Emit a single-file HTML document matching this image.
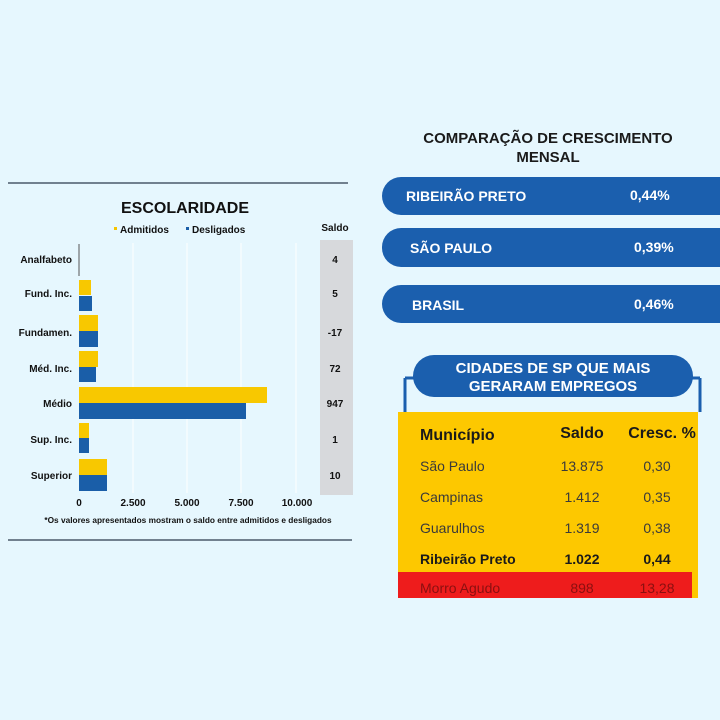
<!DOCTYPE html>
<html><head><meta charset="utf-8"><style>
html,body{margin:0;padding:0;background:#e6f7fe;}
svg{display:block;font-family:"Liberation Sans","DejaVu Sans",sans-serif;}
</style></head><body>
<svg width="720" height="720" viewBox="0 0 720 720" xmlns="http://www.w3.org/2000/svg">
<rect width="720" height="720" fill="#e6f7fe"/>
<!-- Left chart -->
<line x1="8" y1="183" x2="348" y2="183" stroke="#4a5a6a" stroke-width="1.5"/>
<line x1="8" y1="540" x2="352" y2="540" stroke="#4a5a6a" stroke-width="1.5"/>
<text x="185" y="213" text-anchor="middle" font-size="16" font-weight="bold" fill="#111">ESCOLARIDADE</text>
<rect x="114" y="227" width="3" height="3" fill="#f5c400"/>
<text x="120" y="233" font-size="10" font-weight="bold" fill="#111">Admitidos</text>
<rect x="186" y="227" width="3" height="3" fill="#1a5ea8"/>
<text x="192" y="233" font-size="10" font-weight="bold" fill="#111">Desligados</text>
<text x="335" y="231" text-anchor="middle" font-size="10" font-weight="bold" fill="#111">Saldo</text>
<rect x="320" y="240" width="33" height="255" fill="#d7d9dc"/>
<g stroke="#ffffff" stroke-width="1">
<line x1="133" y1="243" x2="133" y2="493"/><line x1="187" y1="243" x2="187" y2="493"/>
<line x1="241" y1="243" x2="241" y2="493"/><line x1="296" y1="243" x2="296" y2="493"/>
</g>
<g font-size="10" font-weight="bold" fill="#111" text-anchor="end">
<text x="72" y="263">Analfabeto</text><text x="72" y="297">Fund. Inc.</text>
<text x="72" y="336">Fundamen.</text><text x="72" y="372">Méd. Inc.</text>
<text x="72" y="407">Médio</text><text x="72" y="443">Sup. Inc.</text>
<text x="72" y="479">Superior</text>
</g>
<g font-size="10" font-weight="bold" fill="#111" text-anchor="middle">
<text x="335" y="263">4</text><text x="335" y="297">5</text><text x="335" y="336">-17</text>
<text x="335" y="372">72</text><text x="335" y="407">947</text><text x="335" y="443">1</text><text x="335" y="479">10</text>
</g>
<line x1="79" y1="244" x2="79" y2="276" stroke="#555" stroke-width="1"/>
<g fill="#f8c800">
<rect x="79" y="280" width="12" height="15"/><rect x="79" y="315" width="19" height="16"/>
<rect x="79" y="351" width="19" height="16"/><rect x="79" y="387" width="188" height="16"/>
<rect x="79" y="423" width="10" height="15"/><rect x="79" y="459" width="28" height="16"/>
</g>
<g fill="#1a5ea8">
<rect x="79" y="296" width="13" height="15"/><rect x="79" y="331" width="19" height="16"/>
<rect x="79" y="367" width="17" height="15"/><rect x="79" y="403" width="167" height="16"/>
<rect x="79" y="438" width="10" height="15"/><rect x="79" y="475" width="28" height="16"/>
</g>
<g font-size="10" font-weight="bold" fill="#111" text-anchor="middle">
<text x="79" y="506">0</text><text x="133" y="506">2.500</text><text x="187" y="506">5.000</text>
<text x="241" y="506">7.500</text><text x="297" y="506">10.000</text>
</g>
<text x="188" y="523" text-anchor="middle" font-size="8.3" font-weight="bold" fill="#111">*Os valores apresentados mostram o saldo entre admitidos e desligados</text>
<!-- Right top -->
<text x="548" y="143" text-anchor="middle" font-size="15" font-weight="bold" fill="#1a1a1a">COMPARAÇÃO DE CRESCIMENTO</text>
<text x="548" y="162" text-anchor="middle" font-size="15" font-weight="bold" fill="#1a1a1a">MENSAL</text>
<g fill="#1b5fae">
<rect x="382" y="177" width="360" height="38" rx="19"/>
<rect x="382" y="228" width="360" height="39" rx="19"/>
<rect x="382" y="285" width="360" height="38" rx="19"/>
</g>
<g font-size="14" font-weight="bold" fill="#ffffff">
<text x="406" y="201">RIBEIRÃO PRETO</text><text x="630" y="200">0,44%</text>
<text x="410" y="253">SÃO PAULO</text><text x="634" y="252">0,39%</text>
<text x="412" y="310">BRASIL</text><text x="634" y="309">0,46%</text>
</g>
<!-- Table -->
<line x1="405" y1="378" x2="405" y2="412" stroke="#1b5fae" stroke-width="3"/>
<line x1="700" y1="378" x2="700" y2="412" stroke="#1b5fae" stroke-width="3"/>
<line x1="405" y1="378" x2="420" y2="378" stroke="#1b5fae" stroke-width="3"/>
<line x1="686" y1="378" x2="700" y2="378" stroke="#1b5fae" stroke-width="3"/>
<rect x="413" y="355" width="280" height="42" rx="21" fill="#1b5fae"/>
<text x="553" y="373" text-anchor="middle" font-size="15" font-weight="bold" fill="#fff">CIDADES DE SP QUE MAIS</text>
<text x="553" y="391" text-anchor="middle" font-size="15" font-weight="bold" fill="#fff">GERARAM EMPREGOS</text>
<rect x="398" y="412" width="300" height="186" fill="#fdc800"/>
<rect x="398" y="572" width="294" height="26" fill="#ee1c1c"/>
<g font-size="16" font-weight="bold" fill="#1a1a1a">
<text x="420" y="440">Município</text><text x="582" y="438" text-anchor="middle">Saldo</text><text x="662" y="438" text-anchor="middle">Cresc. %</text>
</g>
<g font-size="14" fill="#3a3a3a">
<text x="420" y="471">São Paulo</text><text x="582" y="471" text-anchor="middle">13.875</text><text x="657" y="471" text-anchor="middle">0,30</text>
<text x="420" y="502">Campinas</text><text x="582" y="502" text-anchor="middle">1.412</text><text x="657" y="502" text-anchor="middle">0,35</text>
<text x="420" y="533">Guarulhos</text><text x="582" y="533" text-anchor="middle">1.319</text><text x="657" y="533" text-anchor="middle">0,38</text>
</g>
<g font-size="14" font-weight="bold" fill="#1a1a1a">
<text x="420" y="564">Ribeirão Preto</text><text x="582" y="564" text-anchor="middle">1.022</text><text x="657" y="564" text-anchor="middle">0,44</text>
</g>
<g font-size="14" fill="#8a1010">
<text x="420" y="593">Morro Agudo</text><text x="582" y="593" text-anchor="middle">898</text><text x="657" y="593" text-anchor="middle">13,28</text>
</g>
</svg>
</body></html>
